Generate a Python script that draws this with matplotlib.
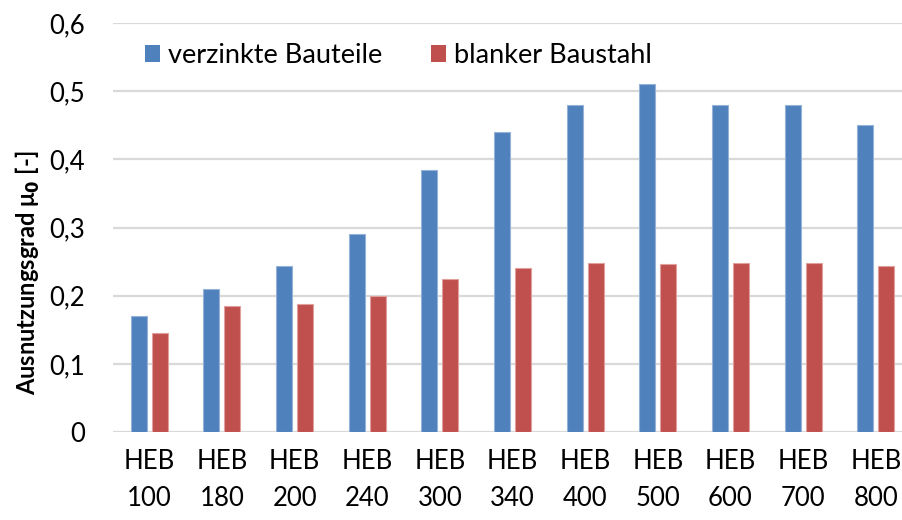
import numpy as np
import matplotlib.pyplot as plt

# Trägerprofile und Ausnutzungsgrade
profile = ["HEB\n100", "HEB\n180", "HEB\n200", "HEB\n240", "HEB\n300", "HEB\n340",
           "HEB\n400", "HEB\n500", "HEB\n600", "HEB\n700", "HEB\n800"]
verzinkt = [0.17, 0.21, 0.244, 0.29, 0.385, 0.44, 0.48, 0.51, 0.48, 0.48, 0.45]
blank = [0.145, 0.185, 0.188, 0.20, 0.225, 0.24, 0.248, 0.247, 0.248, 0.248, 0.244]
yticks = [0, 0.1, 0.2, 0.3, 0.4, 0.5, 0.6]
ytick_labels = ["0", "0,1", "0,2", "0,3", "0,4", "0,5", "0,6"]

plt.rcParams['font.family'] = ['Lato', 'DejaVu Sans']

fig = plt.figure(figsize=(9.03, 5.2), dpi=100)
# Zeichenfläche reicht rechts etwas über den Bildrand hinaus
ax = fig.add_axes([0.1251, 0.1692, 0.885, 0.7866])

x = np.arange(len(profile))
w = 0.22
off = 0.145
ax.bar(x - off, verzinkt, w, color='#4F81BD', edgecolor='#95B3D7', linewidth=0.8,
       label='verzinkte Bauteile', zorder=3)
ax.bar(x + off, blank, w, color='#C0504D', edgecolor='#E0A09E', linewidth=0.8,
       label='blanker Baustahl', zorder=3)

ax.set_xlim(-0.5, len(profile) - 0.5)
ax.set_ylim(0, 0.6)
ax.set_yticks(yticks)
ax.set_yticklabels(ytick_labels)
ax.set_xticks(x)
ax.set_xticklabels(profile, linespacing=1.6)
ax.tick_params(axis='both', length=0, labelsize=18.5, colors='black')
ax.tick_params(axis='y', pad=20)
ax.tick_params(axis='x', pad=12)

ax.grid(axis='y', color='#D9D9D9', linewidth=1.6, zorder=0)
ax.set_axisbelow(True)
for s in ax.spines.values():
    s.set_visible(False)

fig.text(0.031, 0.475, r'Ausnutzungsgrad μ$_\mathbf{0}$ [-]', rotation=90,
         ha='center', va='center', fontsize=17, fontweight='bold')

leg = ax.legend(loc='center left', bbox_to_anchor=(0.161, 0.893),
                bbox_transform=fig.transFigure, ncol=2, frameon=False,
                fontsize=19.5, handlelength=0.55, handleheight=0.55,
                handletextpad=0.3, columnspacing=1.8, borderpad=0,
                borderaxespad=0)
for h in leg.legend_handles:
    h.set_edgecolor('none')

fig.savefig('out.png', dpi=100)
